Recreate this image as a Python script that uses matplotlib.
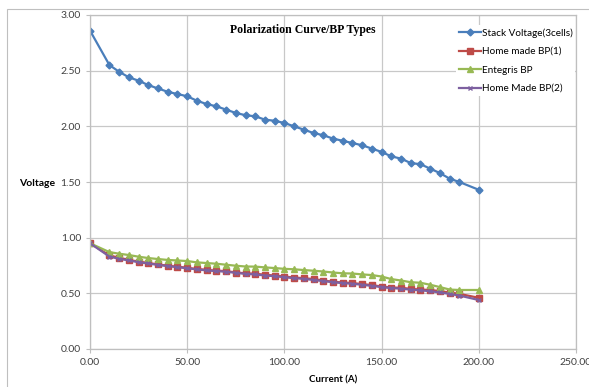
import matplotlib
matplotlib.use("Agg")
import matplotlib.pyplot as plt
from matplotlib.patches import Rectangle

# current (A)
current = [0, 10, 15, 20, 25, 30, 35, 40, 45, 50, 55, 60, 65, 70, 75, 80, 85, 90, 95, 100,
           105, 110, 115, 120, 125, 130, 135, 140, 145, 150, 155, 160, 165, 170, 175, 180,
           185, 190, 200]

stack_v = [2.86, 2.55, 2.49, 2.44, 2.41, 2.37, 2.34, 2.31, 2.29, 2.27, 2.23, 2.20, 2.18, 2.15,
           2.12, 2.10, 2.09, 2.06, 2.05, 2.03, 2.00, 1.97, 1.94, 1.92, 1.89, 1.87, 1.85, 1.83,
           1.80, 1.77, 1.73, 1.71, 1.67, 1.66, 1.62, 1.58, 1.53, 1.50, 1.43]

home_bp1 = [0.95, 0.84, 0.82, 0.80, 0.785, 0.772, 0.76, 0.748, 0.739, 0.73, 0.718, 0.712, 0.703,
            0.70, 0.687, 0.68, 0.676, 0.667, 0.66, 0.651, 0.642, 0.636, 0.628, 0.615, 0.604,
            0.597, 0.592, 0.583, 0.574, 0.561, 0.552, 0.55, 0.54, 0.534, 0.53, 0.52, 0.507,
            0.495, 0.46]

entegris = [0.95, 0.87, 0.856, 0.844, 0.829, 0.817, 0.808, 0.80, 0.795, 0.79, 0.778, 0.772,
            0.766, 0.757, 0.748, 0.741, 0.74, 0.733, 0.727, 0.72, 0.716, 0.709, 0.703, 0.696,
            0.687, 0.68, 0.678, 0.67, 0.664, 0.651, 0.628, 0.615, 0.60, 0.595, 0.577, 0.556,
            0.534, 0.53, 0.53]

home_bp2 = [0.95, 0.83, 0.81, 0.795, 0.78, 0.768, 0.755, 0.745, 0.735, 0.725, 0.715, 0.706,
            0.70, 0.694, 0.684, 0.675, 0.67, 0.66, 0.654, 0.645, 0.636, 0.63, 0.62, 0.61, 0.60,
            0.592, 0.586, 0.577, 0.567, 0.556, 0.547, 0.542, 0.533, 0.527, 0.519, 0.508, 0.495,
            0.48, 0.44]

series_names = ["Stack Voltage(3cells)", "Home made BP(1)", "Entegris BP", "Home Made BP(2)"]

plt.rcParams['font.family'] = ['Lato', 'DejaVu Sans']

fig = plt.figure(figsize=(5.89, 3.87), dpi=100)
W, H = 589, 387
ax = fig.add_axes([90 / W, 1 - 349 / H, (576 - 90) / W, (349 - 15) / H])

# chart area border
fig.patches.append(Rectangle((7 / W, -0.1), 1.2, 1 - 9 / H + 0.1, transform=fig.transFigure,
                             fill=False, edgecolor='#bfbfbf', linewidth=0.8))

ax.plot(current, stack_v, color='#4A7EBB', marker='D', markersize=3.5, linewidth=1.6,
        label=series_names[0])
ax.plot(current, home_bp1, color='#BE4B48', marker='s', markersize=4, linewidth=1.6,
        label=series_names[1])
ax.plot(current, entegris, color='#98B954', marker='^', markersize=4.5, linewidth=1.6,
        label=series_names[2])
ax.plot(current, home_bp2, color='#7D60A0', marker='x', markersize=3.5, linewidth=1.6,
        label=series_names[3])

ax.set_xlim(0, 250)
ax.set_ylim(0, 3)
ax.set_xticks([0, 50, 100, 150, 200, 250])
ax.set_yticks([0, 0.5, 1.0, 1.5, 2.0, 2.5, 3.0])
ax.set_xticklabels(['%.2f' % t for t in ax.get_xticks()])
ax.set_yticklabels(['%.2f' % t for t in ax.get_yticks()])
ax.tick_params(labelsize=7.5, colors='#404040', length=3, width=0.8)
ax.tick_params(axis='both', color='#bfbfbf')
ax.grid(True, color='#c8c8c8', linewidth=0.9)
ax.set_axisbelow(True)
for s in ax.spines.values():
    s.set_color('#bfbfbf')
    s.set_linewidth(0.9)

ax.set_xlabel('Current (A)', fontsize=7, fontweight='bold', labelpad=6)
ax.set_ylabel('Voltage', fontsize=7.5, fontweight='bold', rotation=0, ha='center', va='center')
ax.yaxis.set_label_coords(-0.109, 0.497)

ax.text(0.438, 0.955, 'Polarization Curve/BP Types', transform=ax.transAxes, ha='center',
        va='center', fontsize=8.5, fontweight='bold', family='Liberation Serif')

leg = ax.legend(loc='upper left', bbox_to_anchor=(0.742, 0.985), fontsize=7.2, frameon=True,
                handlelength=2.2, handletextpad=0.1, labelspacing=0.95, borderpad=0.3)
leg.get_frame().set_edgecolor('none')
leg.get_frame().set_facecolor('white')
leg.get_frame().set_alpha(1)

fig.savefig('out.png', dpi=100)
